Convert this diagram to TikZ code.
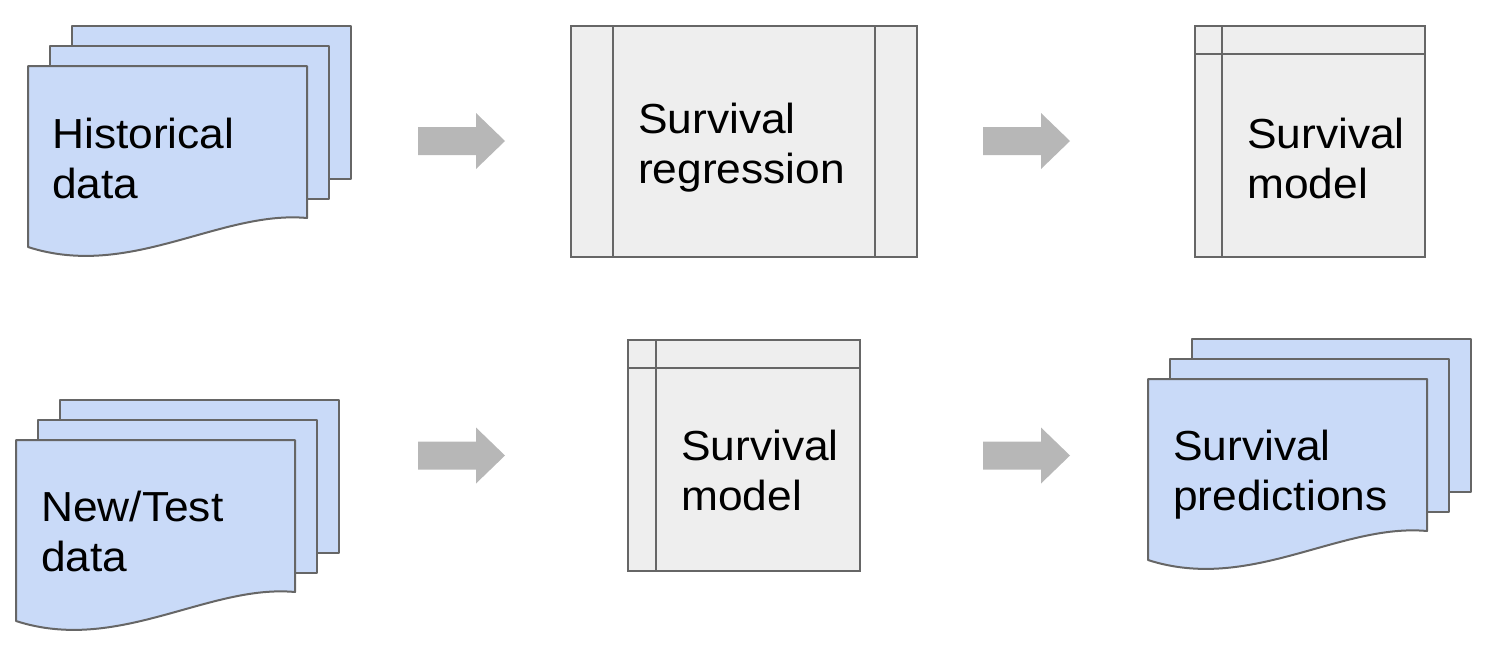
\documentclass[tikz,border=0pt]{standalone}
\usepackage{fontspec}
\setmainfont[FakeStretch=1.055]{Liberation Sans}
\definecolor{docblue}{HTML}{C9DAF8}
\definecolor{boxgray}{HTML}{EEEEEE}
\definecolor{edgegray}{HTML}{666666}
\definecolor{arrowgray}{HTML}{B7B7B7}
\newcommand\twolines[2]{\vtop{\baselineskip=50pt\hbox{#1}\hbox{#2}}}
\tikzset{
  sheet/.style={fill=docblue, draw=edgegray, line width=2pt, line join=round},
  procbox/.style={fill=boxgray, draw=edgegray, line width=2pt, inner sep=0pt},
  divider/.style={draw=edgegray, line width=2pt},
  label/.style={anchor=base west, inner sep=0pt, font=\fontsize{42}{50}\selectfont},
  blockarrow/.style={fill=arrowgray},
}
% stacked documents: #1,#2 = top-left corner of the front sheet
\newcommand\stackdoc[2]{%
  \draw[sheet] (#1+44,#2-40) rectangle ++(279,153);
  \draw[sheet] (#1+22,#2-20) rectangle ++(279,153);
  \draw[sheet] (#1,#2) -- (#1+279,#2) -- (#1+279,#2+152)
     .. controls (#1+192,#2+144) and (#1+102,#2+214) .. (#1,#2+181) -- cycle;
}
% block arrow: #1 = left x, #2 = centre y
\newcommand\bigarrow[2]{%
  \fill[blockarrow] (#1,#2-14) -- (#1+58,#2-14) -- (#1+58,#2-28) -- (#1+87,#2)
     -- (#1+58,#2+28) -- (#1+58,#2+14) -- (#1,#2+14) -- cycle;
}
\begin{document}
\begin{tikzpicture}[x=1pt,y=-1pt]
\useasboundingbox (0,0) rectangle (1492,654);

% ---- top row ----
\stackdoc{28}{66}
\node[label] (hist) at (52,148) {\twolines{Historical}{data}};

\bigarrow{418}{141}

\node[procbox, minimum width=346pt, minimum height=231pt] (reg) at (744,141.5) {};
\draw[divider] ([xshift=43pt]reg.north west) -- ([xshift=43pt]reg.south west);
\draw[divider] ([xshift=-43pt]reg.north east) -- ([xshift=-43pt]reg.south east);
\node[label] (regtext) at (638,133) {\twolines{Survival}{regression}};

\bigarrow{983}{141}

\node[procbox, minimum width=230pt, minimum height=231pt] (modA) at (1310,141.5) {};
\draw[divider] ([xshift=28pt]modA.north west) -- ([xshift=28pt]modA.south west);
\draw[divider] ([yshift=-29pt]modA.north west) -- ([yshift=-29pt]modA.north east);
\node[label] (modAtext) at (1247,148) {\twolines{Survival}{model}};

% ---- bottom row ----
\stackdoc{16}{440}
\node[label] (newtext) at (41,521) {\twolines{New/Test}{data}};

\bigarrow{418}{455.5}

\node[procbox, minimum width=232pt, minimum height=231pt] (modB) at (744,455.5) {};
\draw[divider] ([xshift=29pt]modB.north west) -- ([xshift=29pt]modB.south west);
\draw[divider] ([yshift=-29pt]modB.north west) -- ([yshift=-29pt]modB.north east);
\node[label] (modBtext) at (681,460) {\twolines{Survival}{model}};

\bigarrow{983}{455.5}

\stackdoc{1148}{379}
\node[label] (predtext) at (1173,460) {\twolines{Survival}{predictions}};
\end{tikzpicture}
\end{document}
